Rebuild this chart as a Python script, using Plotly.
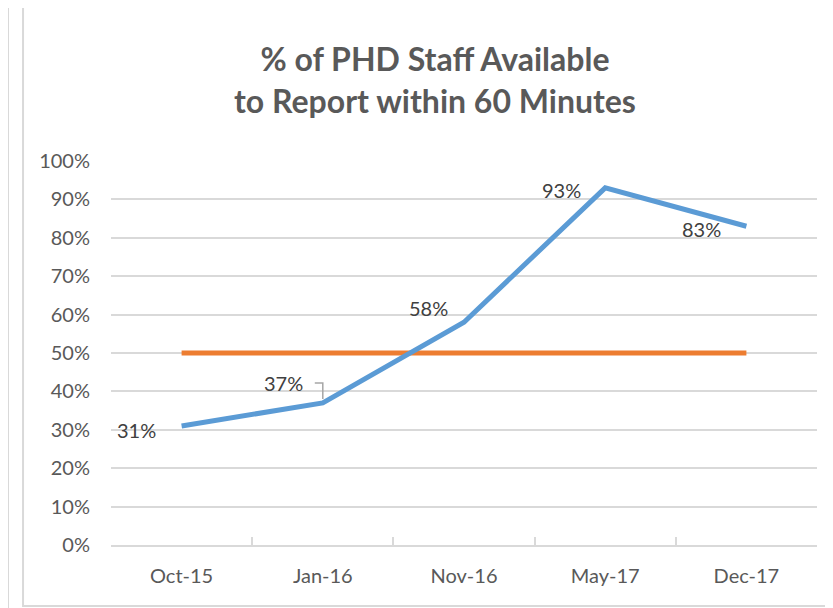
import plotly.graph_objects as go

categories = ["Oct-15", "Jan-16", "Nov-16", "May-17", "Dec-17"]
available_pct = [31, 37, 58, 93, 83]
target_pct = [50, 50, 50, 50, 50]
y_tick_vals = [0, 10, 20, 30, 40, 50, 60, 70, 80, 90, 100]
y_tick_text = ["0%", "10%", "20%", "30%", "40%", "50%", "60%", "70%", "80%", "90%", "100%"]
label_shift_x = [-45, -39, -36, -44, -45]
label_shift_y = [-4, 20, 14, -2, -3]

FONT = "Lato, 'Open Sans', sans-serif"
GREY = "#595959"

fig = go.Figure()
fig.add_trace(go.Scatter(x=categories, y=target_pct, mode="lines",
                         line=dict(color="#ED7D31", width=5), hoverinfo="skip"))
fig.add_trace(go.Scatter(x=categories, y=available_pct, mode="lines",
                         line=dict(color="#5B9BD5", width=5), hoverinfo="skip"))

annotations = []
for c, v, dx, dy in zip(categories, available_pct, label_shift_x, label_shift_y):
    annotations.append(dict(x=c, y=v, text=f"{v}%", showarrow=False,
                            xanchor="center", yanchor="middle", xshift=dx, yshift=dy,
                            font=dict(family=FONT, size=20, color="#404040")))

shapes = [
    # chart frame
    dict(type="rect", xref="paper", yref="paper", x0=-0.1246, x1=1.1, y0=-0.159, y1=1.401,
         line=dict(color="#D9D9D9", width=2), fillcolor="rgba(0,0,0,0)", layer="below"),
    # neighbouring frame edge
    dict(type="line", xref="paper", yref="paper", x0=-0.1459, x1=-0.1459, y0=-0.3, y1=1.5,
         line=dict(color="#D9D9D9", width=2), layer="below"),
    # leader line for 37%
    dict(type="path", xref="x", yref="y", xsizemode="pixel", ysizemode="pixel",
         xanchor=categories[1], yanchor=available_pct[1],
         path="M -8,20 L 0,20 L 0,4", line=dict(color="#A6A6A6", width=1.5)),
]

fig.update_layout(
    width=833, height=608,
    margin=dict(l=103, r=24, t=153, b=71),
    paper_bgcolor="white", plot_bgcolor="white",
    showlegend=False,
    title=dict(text="<b>% of PHD Staff Available<br>to Report within 60 Minutes</b>",
               x=0.5126, xanchor="center", y=0.8964, yanchor="middle",
               font=dict(family=FONT, size=32, color=GREY)),
    annotations=annotations,
    shapes=shapes,
    xaxis=dict(type="category", showgrid=False, showline=True, linecolor="#D9D9D9", linewidth=1.5,
               ticks="inside", tickson="boundaries", ticklen=8, tickcolor="#D9D9D9", tickwidth=1.5,
               ticklabelstandoff=12,
               tickfont=dict(family=FONT, size=20, color=GREY), range=[-0.5, 4.5]),
    yaxis=dict(range=[0, 100], tickvals=y_tick_vals, ticktext=y_tick_text,
               showgrid=True, gridcolor="#D9D9D9", gridwidth=1.5, zeroline=False,
               showline=False, ticks="", ticklabelstandoff=20,
               tickfont=dict(family=FONT, size=20, color=GREY)),
)

fig.write_html("out.html")
